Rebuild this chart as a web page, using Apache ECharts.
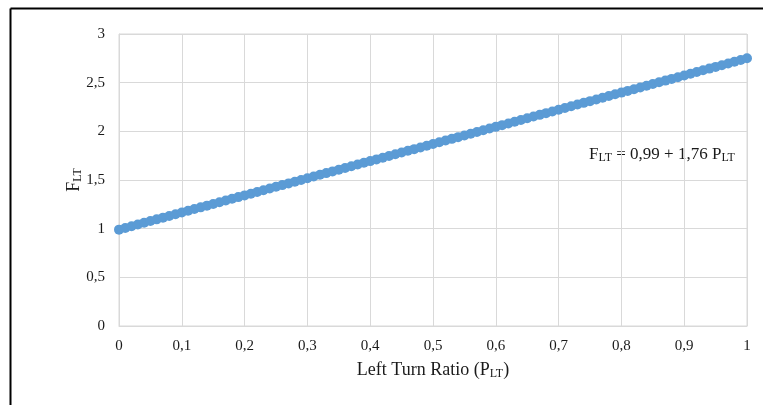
<!DOCTYPE html>
<html><head><meta charset="utf-8">
<script src="https://cdn.jsdelivr.net/npm/echarts@6/dist/echarts.min.js"></script>
<style>html,body{margin:0;padding:0;background:#fff}#c{width:763px;height:405px}</style>
</head><body><div id="c"></div>
<script>
var pltValues = [0.00,0.01,0.02,0.03,0.04,0.05,0.06,0.07,0.08,0.09,0.10,0.11,0.12,0.13,0.14,0.15,0.16,0.17,0.18,0.19,0.20,0.21,0.22,0.23,0.24,0.25,0.26,0.27,0.28,0.29,0.30,0.31,0.32,0.33,0.34,0.35,0.36,0.37,0.38,0.39,0.40,0.41,0.42,0.43,0.44,0.45,0.46,0.47,0.48,0.49,0.50,0.51,0.52,0.53,0.54,0.55,0.56,0.57,0.58,0.59,0.60,0.61,0.62,0.63,0.64,0.65,0.66,0.67,0.68,0.69,0.70,0.71,0.72,0.73,0.74,0.75,0.76,0.77,0.78,0.79,0.80,0.81,0.82,0.83,0.84,0.85,0.86,0.87,0.88,0.89,0.90,0.91,0.92,0.93,0.94,0.95,0.96,0.97,0.98,0.99,1.00];
var fltValues = [0.99,1.0076,1.0252,1.0428,1.0604,1.078,1.0956,1.1132,1.1308,1.1484,1.166,1.1836,1.2012,1.2188,1.2364,1.254,1.2716,1.2892,1.3068,1.3244,1.342,1.3596,1.3772,1.3948,1.4124,1.43,1.4476,1.4652,1.4828,1.5004,1.518,1.5356,1.5532,1.5708,1.5884,1.606,1.6236,1.6412,1.6588,1.6764,1.694,1.7116,1.7292,1.7468,1.7644,1.782,1.7996,1.8172,1.8348,1.8524,1.87,1.8876,1.9052,1.9228,1.9404,1.958,1.9756,1.9932,2.0108,2.0284,2.046,2.0636,2.0812,2.0988,2.1164,2.134,2.1516,2.1692,2.1868,2.2044,2.222,2.2396,2.2572,2.2748,2.2924,2.31,2.3276,2.3452,2.3628,2.3804,2.398,2.4156,2.4332,2.4508,2.4684,2.486,2.5036,2.5212,2.5388,2.5564,2.574,2.5916,2.6092,2.6268,2.6444,2.662,2.6796,2.6972,2.7148,2.7324,2.75];
var xTicks = {min: 0, max: 1, interval: 0.1};
var yTicks = {min: 0, max: 3, interval: 0.5};
var equationText = 'F{s|LT} = 0,99 + 1,76 P{s|LT}';
var xTitle = 'Left Turn Ratio (P{s|LT})';
var yTitle = 'F{s|LT}';

var data = pltValues.map(function(x, i){ return [x, fltValues[i]]; });
function comma(v){ return String(Math.round(v*10)/10).replace('.', ','); }
var FONT = '"Liberation Serif", "Times New Roman", serif';
var subRich = { s: { fontSize: 12, fontFamily: FONT, color: '#1a1a1a', padding: [8,0,0,0] } };

var chart = echarts.init(document.getElementById('c'));
chart.setOption({
  animation: false,
  backgroundColor: '#fff',
  grid: { left: 119, right: 16, top: 34, bottom: 79, show: true, borderColor: '#d9d9d9', borderWidth: 1 },
  xAxis: {
    type: 'value', min: xTicks.min, max: xTicks.max, interval: xTicks.interval,
    name: xTitle, nameLocation: 'middle', nameGap: 34, nameMoveOverlap: false,
    nameTextStyle: { fontFamily: FONT, fontSize: 18, color: '#1a1a1a', rich: subRich },
    axisLine: { show: true, lineStyle: { color: '#d9d9d9' } },
    axisTick: { show: false },
    axisLabel: { fontFamily: FONT, fontSize: 15, color: '#1a1a1a', margin: 13, formatter: comma },
    splitLine: { show: true, lineStyle: { color: '#d9d9d9', width: 1 } }
  },
  yAxis: {
    type: 'value', min: yTicks.min, max: yTicks.max, interval: yTicks.interval,
    name: yTitle, nameLocation: 'middle', nameGap: 35, nameMoveOverlap: false,
    nameTextStyle: { fontFamily: FONT, fontSize: 18, color: '#1a1a1a', rich: subRich },
    axisLine: { show: true, lineStyle: { color: '#d9d9d9' } },
    axisTick: { show: false },
    axisLabel: { fontFamily: FONT, fontSize: 15, color: '#1a1a1a', margin: 14, formatter: comma },
    splitLine: { show: true, lineStyle: { color: '#d9d9d9', width: 1 } }
  },
  series: [{
    type: 'line', data: data,
    symbol: 'circle', symbolSize: 10, showSymbol: true,
    itemStyle: { color: '#5B9BD5' },
    lineStyle: { color: '#5B9BD5', width: 4 }
  }],
  graphic: [
    { type: 'line', shape: { x1: 10.5, y1: 8.5, x2: 763, y2: 8.5 }, style: { stroke: '#000', lineWidth: 2 } },
    { type: 'line', shape: { x1: 10.5, y1: 8.5, x2: 10.5, y2: 405 }, style: { stroke: '#000', lineWidth: 2 } },
    { type: 'text', left: 589, top: 146,
      style: { text: equationText, fontFamily: FONT, fontSize: 17, fill: '#1a1a1a',
        rich: { s: { fontSize: 12, fontFamily: FONT, fill: '#1a1a1a', padding: [7,0,0,0] } } } }
  ]
});
</script></body></html>
